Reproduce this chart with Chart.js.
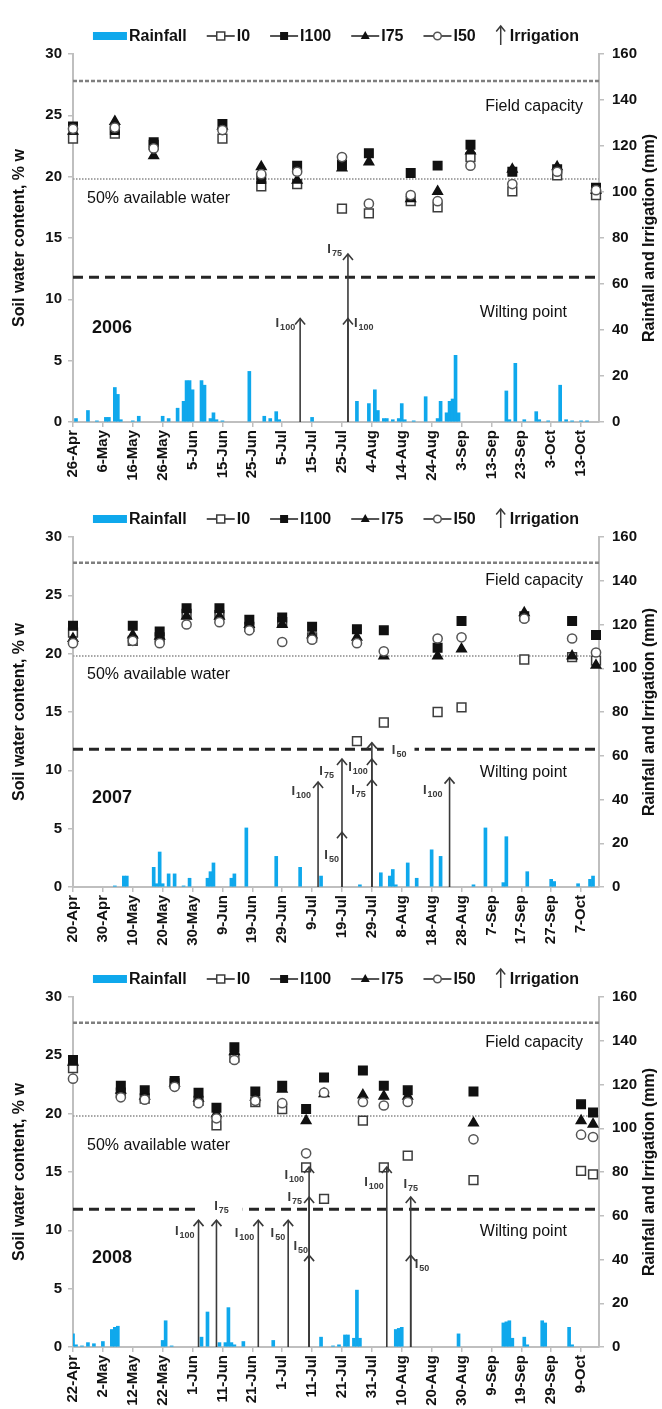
<!DOCTYPE html>
<html>
<head>
<meta charset="utf-8">
<script src="https://cdn.jsdelivr.net/npm/chart.js@4.4.1/dist/chart.umd.min.js"></script>
<style>
  body { margin: 0; background: #fff; width: 662px; height: 1409px; overflow: hidden; }
  .panel { position: relative; width: 662px; }
</style>
</head>
<body>
<div class="panel" style="height:490px"><canvas id="c2006"></canvas></div>
<div class="panel" style="height:470px"><canvas id="c2007"></canvas></div>
<div class="panel" style="height:449px"><canvas id="c2008"></canvas></div>
<script>
const FONT = '"Liberation Sans", Arial, sans-serif';
Chart.defaults.font.family = FONT;
Chart.defaults.color = '#111';

// reference levels, % w : field capacity, 50% available water, wilting point
const refLevels = [27.8, 19.8, 11.8];

// ---- 2006 (days counted from 26-Apr)
const ticks2006 = ['26-Apr','6-May','16-May','26-May','5-Jun','15-Jun','25-Jun','5-Jul','15-Jul','25-Jul','4-Aug','14-Aug','24-Aug','3-Sep','13-Sep','23-Sep','3-Oct','13-Oct'];
const days2006 = [0, 14, 27, 50, 63, 75, 90, 99, 113, 122, 133, 147, 162, 175];
const i0_2006   = [23.1, 23.5, 22.6, 23.1, 19.2, 19.4, 17.4, 17.0, 18.0, 17.5, 21.6, 18.8, 20.1, 18.5];
const i100_2006 = [24.1, 23.8, 22.8, 24.3, 19.8, 20.9, 21.0, 21.9, 20.3, 20.9, 22.6, 20.4, 20.6, 19.1];
const i75_2006  = [23.7, 24.5, 21.7, 24.1, 20.8, 19.7, 20.7, 21.2, 18.2, 18.8, 22.1, 20.6, 20.8, 18.9];
const i50_2006  = [23.9, 24.0, 22.3, 23.8, 20.2, 20.4, 21.6, 17.8, 18.5, 18.0, 20.9, 19.4, 20.4, 18.9];
const rainDays2006 = [1,5,8,11,12,14,15,16,20,22,30,32,35,37,38,39,40,43,44,46,47,48,50,59,64,66,68,69,80,95,99,101,102,104,105,107,109,110,111,114,118,122,123,125,126,127,128,129,145,146,148,151,155,156,159,163,165,167,170,172];
const rainMm2006   = [1.5,5,0.5,2,2,15,12,1,0.5,2.5,2.5,1.5,6,9,18,18,14,18,16,1.5,4,1,0.5,22,2.5,1.5,4.5,1,2,9,8,14,5,1.5,1.5,1,1.5,8,1,0.5,11,1.5,9,4,9,10,29,4,13.5,1,25.5,1,4.5,1,0.5,16,1,0.5,0.5,0.5];
const irrDays2006 = [76, 92, 92];
const irrMm2006   = [45, 45, 73];
const irrLab2006  = ['100', '100', '75'];

// ---- 2007 (days counted from 20-Apr)
const ticks2007 = ['20-Apr','30-Apr','10-May','20-May','30-May','9-Jun','19-Jun','29-Jun','9-Jul','19-Jul','29-Jul','8-Aug','18-Aug','28-Aug','7-Sep','17-Sep','27-Sep','7-Oct'];
const days2007 = [0, 20, 29, 38, 49, 59, 70, 80, 95, 104, 122, 130, 151, 167, 175];
const i0_2007   = [21.8, 21.1, 21.4, 23.4, 23.3, 22.3, 22.7, 21.4, 12.5, 14.1, 15.0, 15.4, 19.5, 19.7, 19.4];
const i100_2007 = [22.4, 22.4, 21.9, 23.9, 23.9, 22.9, 23.1, 22.3, 22.1, 22.0, 20.5, 22.8, 23.2, 22.8, 21.6];
const i75_2007  = [21.3, 21.6, 21.5, 23.2, 23.2, 22.5, 22.5, 21.6, 21.4, 19.8, 19.8, 20.4, 23.5, 19.8, 19.0];
const i50_2007  = [20.9, 21.1, 20.9, 22.5, 22.7, 22.0, 21.0, 21.2, 20.9, 20.2, 21.3, 21.4, 23.0, 21.3, 20.1];
const rainDays2007 = [14,17,18,27,28,29,30,32,34,37,39,45,46,47,53,54,58,68,76,83,96,103,106,107,108,112,115,120,123,134,138,144,145,152,160,161,169,173,174];
const rainMm2007   = [0.5,5,5,9,1.5,16,1.5,6,6,0.5,4,4,7,11,4,6,27,14,9,5,1,6.5,5,8,1,11,4,17,14,1,27,2,23,7,3.5,2.5,1.5,3.5,5];
const irrDays2007 = [82, 90, 90, 100, 100, 100, 126];
const irrMm2007   = [48, 25, 58.5, 49, 58.5, 66, 50];
const irrLab2007  = ['100', '50', '75', '75', '100', '50', '100'];

// ---- 2008 (days counted from 22-Apr)
const ticks2008 = ['22-Apr','2-May','12-May','22-May','1-Jun','11-Jun','21-Jun','1-Jul','11-Jul','21-Jul','31-Jul','10-Aug','20-Aug','30-Aug','9-Sep','19-Sep','29-Sep','9-Oct'];
const days2008 = [0, 16, 24, 34, 42, 48, 54, 61, 70, 78, 84, 97, 104, 112, 134, 170, 174];
const i0_2008   = [23.9, 21.8, 21.3, 22.6, 21.1, 19.0, 24.8, 21.0, 20.4, 15.4, 12.7, 19.4, 15.4, 16.4, 14.3, 15.1, 14.8];
const i100_2008 = [24.6, 22.4, 22.0, 22.8, 21.8, 20.5, 25.7, 21.9, 22.4, 20.4, 23.1, 23.7, 22.4, 22.0, 21.9, 20.8, 20.1];
const i75_2008  = [24.4, 22.0, 21.5, 22.6, 21.3, 20.0, 25.3, 21.4, 22.1, 19.4, 21.7, 21.6, 21.5, 21.5, 19.2, 19.4, 19.1];
const i50_2008  = [23.0, 21.4, 21.2, 22.3, 20.9, 19.6, 24.6, 21.1, 20.9, 16.6, 21.8, 21.0, 20.7, 21.0, 17.8, 18.2, 18.0];
const rainDays2008 = [0,1,3,5,7,10,13,14,15,30,31,33,43,45,49,51,52,53,54,57,67,83,87,89,91,92,94,95,96,108,109,110,129,144,145,146,147,151,152,157,158,166,167];
const rainMm2008   = [6,1,0.5,2,1.5,2.5,8,9,9.5,3,12,0.5,4.5,16,2,2,18,2,1,2.5,3,4.5,0.5,1,5.5,5.5,4,26,4,8,8.5,9,6,11,11.5,12,4,4.5,1,12,11,9,1];
const irrDays2008 = [42, 48, 62, 72, 79, 79, 79, 105, 113, 113];
const irrMm2008   = [58, 58, 58, 58, 42, 68.6, 82.3, 82.3, 68.6, 42];
const irrLab2008  = ['100', '75', '100', '50', '50', '75', '100', '100', '75', '50'];

const xy = (xs, ys) => xs.map((x, i) => ({ x: x, y: ys[i] }));

// label placement next to arrow heads: [dx, dy, align, white box padding]
const panels = [
  { id: 'c2006', year: '2006', ticks: ticks2006, days: days2006, i0: i0_2006, i100: i100_2006, i75: i75_2006, i50: i50_2006,
    rainDays: rainDays2006, rainMm: rainMm2006, irrDays: irrDays2006, irrMm: irrMm2006, irrLab: irrLab2006,
    top: 54, xh: 68, notes: { fc: 25.7, aw: 18.25, wp: 8.95, yr: 7.7 },
    labelPos: [[-5, 4, 'right'], [6, 4, 'left'], [-6, -6, 'right']] },
  { id: 'c2007', year: '2007', ticks: ticks2007, days: days2007, i0: i0_2007, i100: i100_2007, i75: i75_2007, i50: i50_2007,
    rainDays: rainDays2007, rainMm: rainMm2007, irrDays: irrDays2007, irrMm: irrMm2007, irrLab: irrLab2007,
    top: 47, xh: 73, notes: { fc: 26.3, aw: 18.2, wp: 9.8, yr: 7.6 },
    labelPos: [[-7, 8, 'right'], [-3, 22, 'right'], [-8, 11, 'right'], [-6, 10, 'right'], [-4, 7, 'right'], [20, 7, 'left', 8], [-7, 12, 'right']] },
  { id: 'c2008', year: '2008', ticks: ticks2008, days: days2008, i0: i0_2008, i100: i100_2008, i75: i75_2008, i50: i50_2008,
    rainDays: rainDays2008, rainMm: rainMm2008, irrDays: irrDays2008, irrMm: irrMm2008, irrLab: irrLab2008,
    top: 37, xh: 62, notes: { fc: 26.1, aw: 17.3, wp: 9.85, yr: 7.6 },
    labelPos: [[-4, 10, 'right'], [5, -15, 'center', 14], [-4, 12, 'right'], [-3, 12, 'right'], [-1, -10, 'right'],
               [-7, 0, 'right'], [-5, 8, 'right'], [-3, 15, 'right'], [0, -13, 'center'], [4, 8, 'left']] }
];

function drawSub(ctx, sub, x, y, align, pad) {
  ctx.font = 'bold 13px ' + FONT;
  const wI = ctx.measureText('I').width;
  ctx.font = 'bold 9px ' + FONT;
  const wS = ctx.measureText(sub).width;
  const w = wI + 1 + wS;
  const left = align === 'right' ? x - w : align === 'center' ? x - w / 2 : x;
  if (pad !== undefined) {
    ctx.fillStyle = '#fff';
    ctx.fillRect(left - pad, y - 9, w + 2 * pad, 18);
  }
  ctx.fillStyle = '#3a3a3a';
  ctx.textAlign = 'left';
  ctx.textBaseline = 'alphabetic';
  ctx.font = 'bold 13px ' + FONT;
  ctx.fillText('I', left, y + 4.5);
  ctx.font = 'bold 9px ' + FONT;
  ctx.fillText(sub, left + wI + 1, y + 7.5);
}

function arrowHead(ctx, x, y, s) {
  ctx.beginPath();
  ctx.moveTo(x - s, y + s * 1.2);
  ctx.lineTo(x, y);
  ctx.lineTo(x + s, y + s * 1.2);
  ctx.stroke();
}

function legendMarker(ctx, kind, x, y) {
  ctx.lineWidth = 1.5;
  if (kind === 'i0') {
    ctx.fillStyle = '#fff'; ctx.strokeStyle = '#3c3c3c';
    ctx.fillRect(x - 4, y - 4, 8, 8); ctx.strokeRect(x - 4, y - 4, 8, 8);
  } else if (kind === 'i100') {
    ctx.fillStyle = '#111'; ctx.fillRect(x - 4, y - 4, 8, 8);
  } else if (kind === 'i75') {
    ctx.fillStyle = '#111';
    ctx.beginPath(); ctx.moveTo(x, y - 5); ctx.lineTo(x + 4.5, y + 3); ctx.lineTo(x - 4.5, y + 3); ctx.closePath(); ctx.fill();
  } else if (kind === 'i50') {
    ctx.fillStyle = '#fff'; ctx.strokeStyle = '#555';
    ctx.beginPath(); ctx.arc(x, y, 3.8, 0, Math.PI * 2); ctx.fill(); ctx.stroke();
  }
}

function drawLegend(ctx, area) {
  const y = area.top - 18;
  ctx.font = 'bold 16px ' + FONT;
  const items = [
    { kind: 'rain', w: 34, text: 'Rainfall' },
    { kind: 'i0', w: 28, text: 'I0' },
    { kind: 'i100', w: 28, text: 'I100' },
    { kind: 'i75', w: 28, text: 'I75' },
    { kind: 'i50', w: 28, text: 'I50' },
    { kind: 'arrow', w: 10, text: 'Irrigation' }
  ];
  const gap = 20;
  let total = gap * (items.length - 1);
  items.forEach(it => { it.tg = it.kind === 'arrow' ? 4 : 2; it.tw = ctx.measureText(it.text).width; total += it.w + it.tg + it.tw; });
  let x = (area.left + area.right) / 2 - total / 2;
  items.forEach(it => {
    if (it.kind === 'rain') {
      ctx.fillStyle = '#0fa8ec';
      ctx.fillRect(x, y - 4, it.w, 8);
    } else if (it.kind === 'arrow') {
      ctx.strokeStyle = '#3a3a3a'; ctx.lineWidth = 1.5;
      ctx.beginPath(); ctx.moveTo(x + 5, y + 9); ctx.lineTo(x + 5, y - 10); ctx.stroke();
      arrowHead(ctx, x + 5, y - 10, 4.5);
    } else {
      ctx.strokeStyle = '#555'; ctx.lineWidth = 2;
      ctx.beginPath(); ctx.moveTo(x, y); ctx.lineTo(x + it.w, y); ctx.stroke();
      legendMarker(ctx, it.kind, x + it.w / 2, y);
    }
    ctx.fillStyle = '#111';
    ctx.font = 'bold 16px ' + FONT;
    ctx.textAlign = 'left';
    ctx.textBaseline = 'middle';
    ctx.fillText(it.text, x + it.w + it.tg, y + 1);
    x += it.w + it.tg + it.tw + gap;
  });
}

function overlayFor(p) {
  return {
    id: 'overlay',
    afterDatasetsDraw(chart) {
      const ctx = chart.ctx, xs = chart.scales.x, ys = chart.scales.y2;
      const y0 = ys.getPixelForValue(0);
      ctx.save();
      ctx.strokeStyle = '#3a3a3a';
      ctx.lineWidth = 1.6;
      p.irrDays.forEach((d, i) => {
        const x = xs.getPixelForValue(d), y = ys.getPixelForValue(p.irrMm[i]);
        ctx.beginPath(); ctx.moveTo(x, y0); ctx.lineTo(x, y); ctx.stroke();
        arrowHead(ctx, x, y, 5);
      });
      p.irrLab.forEach((lab, i) => {
        const x = xs.getPixelForValue(p.irrDays[i]), y = ys.getPixelForValue(p.irrMm[i]);
        const lp = p.labelPos[i];
        drawSub(ctx, lab, x + lp[0], y + lp[1], lp[2], lp[3]);
      });
      ctx.restore();
    },
    afterDraw(chart) {
      const ctx = chart.ctx, area = chart.chartArea, yl = chart.scales.y;
      ctx.save();
      drawLegend(ctx, area);
      ctx.fillStyle = '#111';
      ctx.textBaseline = 'middle';
      ctx.font = '16px ' + FONT;
      ctx.textAlign = 'right';
      ctx.fillText('Field capacity', area.right - 16, yl.getPixelForValue(p.notes.fc));
      ctx.fillText('Wilting point', area.right - 32, yl.getPixelForValue(p.notes.wp));
      ctx.textAlign = 'left';
      ctx.fillText('50% available water', area.left + 14, yl.getPixelForValue(p.notes.aw));
      ctx.font = 'bold 18px ' + FONT;
      ctx.fillText(p.year, area.left + 19, yl.getPixelForValue(p.notes.yr));
      // right axis title, reading upwards
      ctx.translate(650, (area.top + area.bottom) / 2);
      ctx.rotate(-Math.PI / 2);
      ctx.textAlign = 'center';
      ctx.font = 'bold 16px ' + FONT;
      ctx.fillText('Rainfall and Irrigation (mm)', 0, 0);
      ctx.restore();
    }
  };
}

const axisGrey = '#bfbfbf';
const tickFont = { size: 15, weight: 'bold' };

function refLine(v, color, width, dash, xmax) {
  return { type: 'line', data: [{ x: 0, y: v }, { x: xmax, y: v }], yAxisID: 'y', xAxisID: 'x',
           borderColor: color, borderWidth: width, borderDash: dash, pointRadius: 0, order: 4 };
}

function scatterSet(label, data, style, radius, fill, stroke, order) {
  return { type: 'scatter', label: label, data: data, yAxisID: 'y', xAxisID: 'x', pointStyle: style,
           pointRadius: radius, pointBackgroundColor: fill, pointBorderColor: stroke, pointBorderWidth: 1.5,
           clip: false, order: order };
}

panels.forEach(p => {
  const xmax = 176;
  new Chart(document.getElementById(p.id), {
    type: 'bar',
    data: {
      datasets: [
        scatterSet('I50', xy(p.days, p.i50), 'circle', 4.6, '#fff', '#555', 0),
        scatterSet('I75', xy(p.days, p.i75), 'triangle', 5.5, '#111', '#111', 1),
        scatterSet('I100', xy(p.days, p.i100), 'rect', 6, '#111', '#111', 2),
        scatterSet('I0', xy(p.days, p.i0), 'rect', 6.2, '#fff', '#3c3c3c', 3),
        refLine(refLevels[0], '#7f7f7f', 2.5, [4, 2], xmax),
        refLine(refLevels[1], '#a6a6a6', 2, [1.5, 1.5], xmax),
        refLine(refLevels[2], '#262626', 3, [10, 6], xmax),
        { type: 'bar', label: 'Rainfall', data: xy(p.rainDays, p.rainMm), yAxisID: 'y2', xAxisID: 'x',
          backgroundColor: '#0fa8ec', barThickness: 3, order: 5 }
      ]
    },
    options: {
      responsive: true,
      maintainAspectRatio: false,
      animation: false,
      layout: { padding: { top: p.top, left: 0, right: 0, bottom: 0 } },
      plugins: { legend: { display: false }, tooltip: { enabled: false } },
      scales: {
        x: {
          type: 'linear', min: 0, max: xmax, offset: false,
          afterBuildTicks: s => { s.ticks = p.ticks.map((t, i) => ({ value: i * 10 })); },
          afterFit: s => { s.height = p.xh; },
          ticks: { callback: (v, i) => p.ticks[i], autoSkip: false, minRotation: 90, maxRotation: 90,
                   padding: 3, font: tickFont, color: '#111' },
          grid: { drawOnChartArea: false, drawTicks: true, tickLength: 5, color: axisGrey, lineWidth: 1.5, offset: false },
          border: { display: true, color: axisGrey, width: 2 }
        },
        y: {
          position: 'left', min: 0, max: 30,
          afterFit: s => { s.width = 73; },
          ticks: { stepSize: 5, padding: 6, font: tickFont, color: '#111' },
          grid: { drawOnChartArea: false, tickLength: 5, color: axisGrey, lineWidth: 1.5 },
          border: { display: true, color: axisGrey, width: 2 },
          title: { display: true, text: 'Soil water content, % w', font: { size: 16, weight: 'bold' },
                   color: '#111', padding: { top: 10, bottom: 0 } }
        },
        y2: {
          position: 'right', min: 0, max: 160,
          afterFit: s => { s.width = 63; },
          ticks: { stepSize: 20, padding: 8, font: tickFont, color: '#111' },
          grid: { drawOnChartArea: false, tickLength: 5, color: axisGrey, lineWidth: 1.5 },
          border: { display: true, color: axisGrey, width: 2 }
        }
      }
    },
    plugins: [overlayFor(p)]
  });
});
</script>
</body>
</html>
